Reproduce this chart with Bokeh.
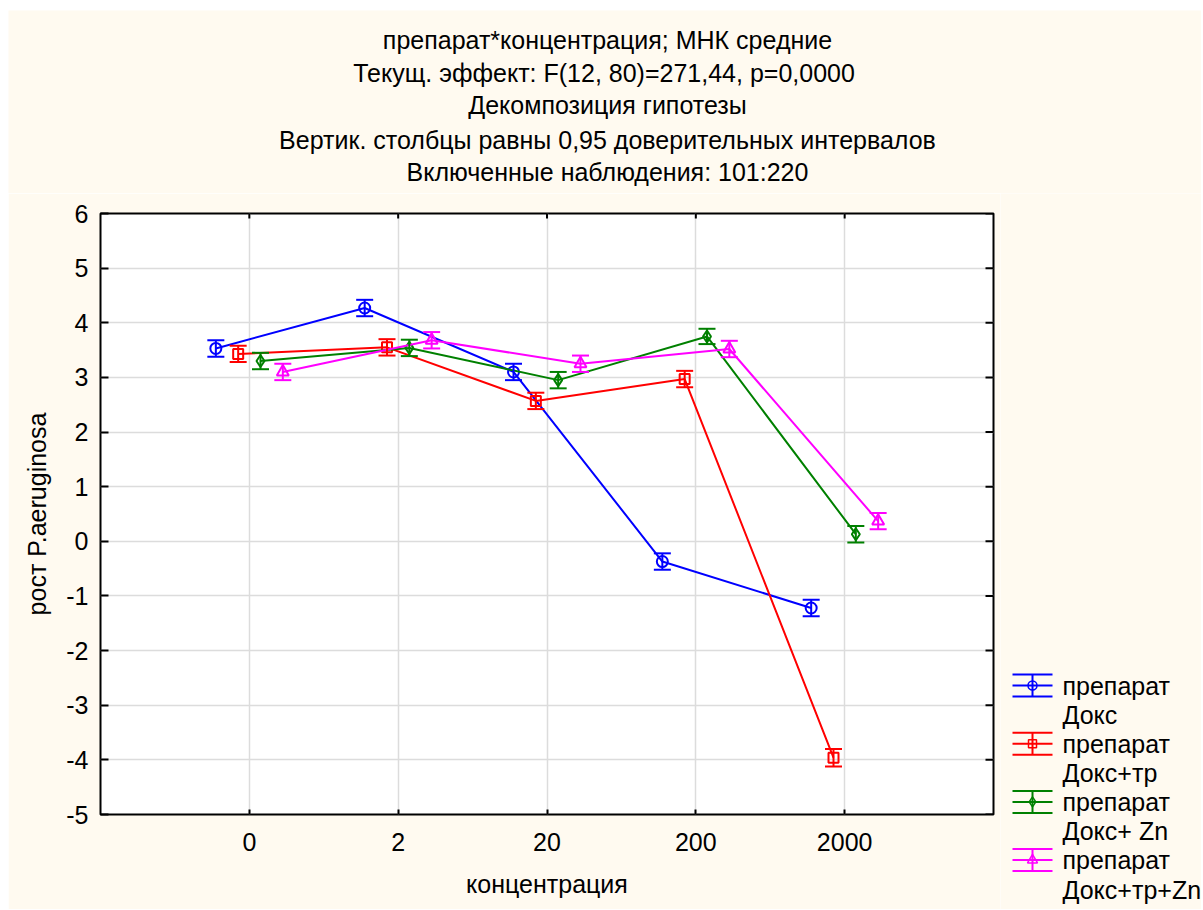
import numpy as np
from bokeh.plotting import figure
from bokeh.models import Range1d, FixedTicker, Whisker, TeeHead, ColumnDataSource
from bokeh.layouts import row, column
from bokeh.embed import file_html
from bokeh.resources import INLINE
from bokeh.core.properties import value

# ---------------- data ----------------
categories = ["0", "2", "20", "200", "2000"]
series_names = ["Докс", "Докс+тр", "Докс+ Zn", "Докс+тр+Zn"]
legend_prefix = "препарат"

mean_doks = [3.53, 4.27, 3.10, -0.37, -1.22]
mean_doks_tr = [3.43, 3.55, 2.57, 2.97, -3.96]
mean_doks_zn = [3.30, 3.54, 2.95, 3.75, 0.13]
mean_doks_tr_zn = [3.10, 3.68, 3.25, 3.52, 0.37]

ci_doks = [0.15, 0.15, 0.15, 0.15, 0.15]
ci_doks_tr = [0.15, 0.15, 0.15, 0.15, 0.16]
ci_doks_zn = [0.15, 0.15, 0.15, 0.14, 0.15]
ci_doks_tr_zn = [0.15, 0.15, 0.15, 0.15, 0.15]

y_ticks = [-5, -4, -3, -2, -1, 0, 1, 2, 3, 4, 5, 6]

title_lines = [
    "препарат*концентрация; МНК средние",
    "Текущ.  эффект: F(12, 80)=271,44, p=0,0000",
    "Декомпозиция гипотезы",
    "Вертик. столбцы равны 0,95 доверительных интервалов",
    "Включенные наблюдения: 101:220",
]
x_label = "концентрация"
y_label = "рост P.aeruginosa"

means = [mean_doks, mean_doks_tr, mean_doks_zn, mean_doks_tr_zn]
cis = [ci_doks, ci_doks_tr, ci_doks_zn, ci_doks_tr_zn]

# ---------------- style ----------------
FONT = "Liberation Sans"
FS = "25px"
BG = "#FFFAF0"
colors = ["#0000FF", "#FF0000", "#008000", "#FF00FF"]
markers = ["circle", "square", "diamond", "triangle"]
marker_sizes = [11, 10, 12, 12]
dodge = [-0.225, -0.075, 0.075, 0.225]

W_A, W_B = 992, 201
H_T, H = 183, 716
ML, MR, MT, MB = 92, 7, 20, 95
XR = (-1, 5)
YR = (-5, 6)

# ---------------- title panel ----------------
W_T = W_A + W_B
t = figure(width=W_T, height=H_T, output_backend="svg", toolbar_location=None,
           x_range=Range1d(0, W_T), y_range=Range1d(H_T, 0),
           x_axis_type=None, y_axis_type=None, min_border=0,
           background_fill_color=BG, border_fill_color=BG, outline_line_color=None)
t.frame_align = False
title_cx = 599
title_cy = [29, 62, 94.5, 129, 161]
t.text(x=[title_cx] * len(title_lines), y=title_cy, text=title_lines,
       text_align="center", text_baseline="middle",
       text_font=value(FONT), text_font_size=value(FS), text_color="black")

# ---------------- main plot ----------------
p = figure(width=W_A, height=H, output_backend="svg", toolbar_location=None,
           x_range=Range1d(*XR), y_range=Range1d(*YR),
           min_border_left=ML, min_border_right=MR,
           min_border_top=MT, min_border_bottom=MB,
           background_fill_color="white", border_fill_color=BG,
           outline_line_color="black", outline_line_width=2)
p.frame_align = False

xticks = list(range(len(categories)))
p.xaxis.ticker = FixedTicker(ticks=xticks)
p.xaxis.major_label_overrides = {i: c for i, c in enumerate(categories)}
p.yaxis.ticker = FixedTicker(ticks=y_ticks)
p.yaxis.major_label_overrides = {v: str(v) for v in y_ticks}

for ax in (p.xaxis[0], p.yaxis[0]):
    ax.axis_line_color = None
    ax.major_tick_out = 0
    ax.major_tick_line_color = "black"
    ax.major_tick_line_width = 2
    ax.minor_tick_line_color = None
    ax.major_label_text_font = FONT
    ax.major_label_text_font_size = FS
    ax.major_label_text_color = "black"
    ax.axis_label_text_font = FONT
    ax.axis_label_text_font_size = FS
    ax.axis_label_text_font_style = "normal"
    ax.axis_label_text_color = "black"

p.xaxis.major_tick_in = 5
p.yaxis.major_tick_in = 8
p.xaxis.major_label_standoff = 18
p.yaxis.major_label_standoff = 12
p.xaxis.axis_label = x_label
p.yaxis.axis_label = y_label
p.xaxis.axis_label_standoff = 16
p.yaxis.axis_label_standoff = 12

p.grid.grid_line_color = "#dcdcdc"
p.grid.grid_line_width = 1.5

# inward ticks on the right and top edges of the frame (clipped half-dashes)
p.scatter(x=[XR[1]] * len(y_ticks), y=y_ticks, marker="dash", size=16,
          line_color="black", line_width=2)
p.scatter(x=xticks, y=[YR[1]] * len(xticks), marker="dash", angle=np.pi / 2,
          size=10, line_color="black", line_width=2)

for i in range(len(series_names)):
    xs = np.arange(len(categories)) + dodge[i]
    m = np.array(means[i])
    c = np.array(cis[i])
    src = ColumnDataSource(dict(x=xs, y=m, lower=m - c, upper=m + c))
    p.line("x", "y", source=src, line_color=colors[i], line_width=2)
    p.add_layout(Whisker(source=src, base="x", lower="lower", upper="upper",
                         dimension="height", line_color=colors[i], line_width=2,
                         level="glyph",
                         upper_head=TeeHead(size=17, line_color=colors[i], line_width=2),
                         lower_head=TeeHead(size=17, line_color=colors[i], line_width=2)))
    p.scatter("x", "y", source=src, marker=markers[i], size=marker_sizes[i],
              fill_color=None, line_color=colors[i], line_width=2)

# ---------------- legend panel ----------------
q = figure(width=W_B, height=H, output_backend="svg", toolbar_location=None,
           x_range=Range1d(0, W_B), y_range=Range1d(H, 0),
           x_axis_type=None, y_axis_type=None, min_border=0,
           background_fill_color=BG, border_fill_color=BG, outline_line_color=None)
q.frame_align = False

row_top, row_step, line_step = 492, 58.2, 29.5
gx0, gx1, gxc, cap, tx = 12, 52, 32, 11, 62
for i in range(len(series_names)):
    yc = row_top + i * row_step
    q.segment(x0=[gx0, gx0, gx0, gxc], y0=[yc - cap, yc, yc + cap, yc - cap],
              x1=[gx1, gx1, gx1, gxc], y1=[yc - cap, yc, yc + cap, yc + cap],
              line_color=colors[i], line_width=2)
    q.scatter([gxc], [yc], marker=markers[i], size=marker_sizes[i] - 2,
              fill_color=None, line_color=colors[i], line_width=1.5)
    q.text(x=[tx, tx], y=[yc, yc + line_step], text=[legend_prefix, series_names[i]],
           text_baseline="middle", text_align="left",
           text_font=value(FONT), text_font_size=value(FS), text_color="black")

layout = column(t, row(p, q, spacing=0), spacing=0, margin=(10, 0, 0, 8))
open("out.html", "w").write(file_html(layout, INLINE))
